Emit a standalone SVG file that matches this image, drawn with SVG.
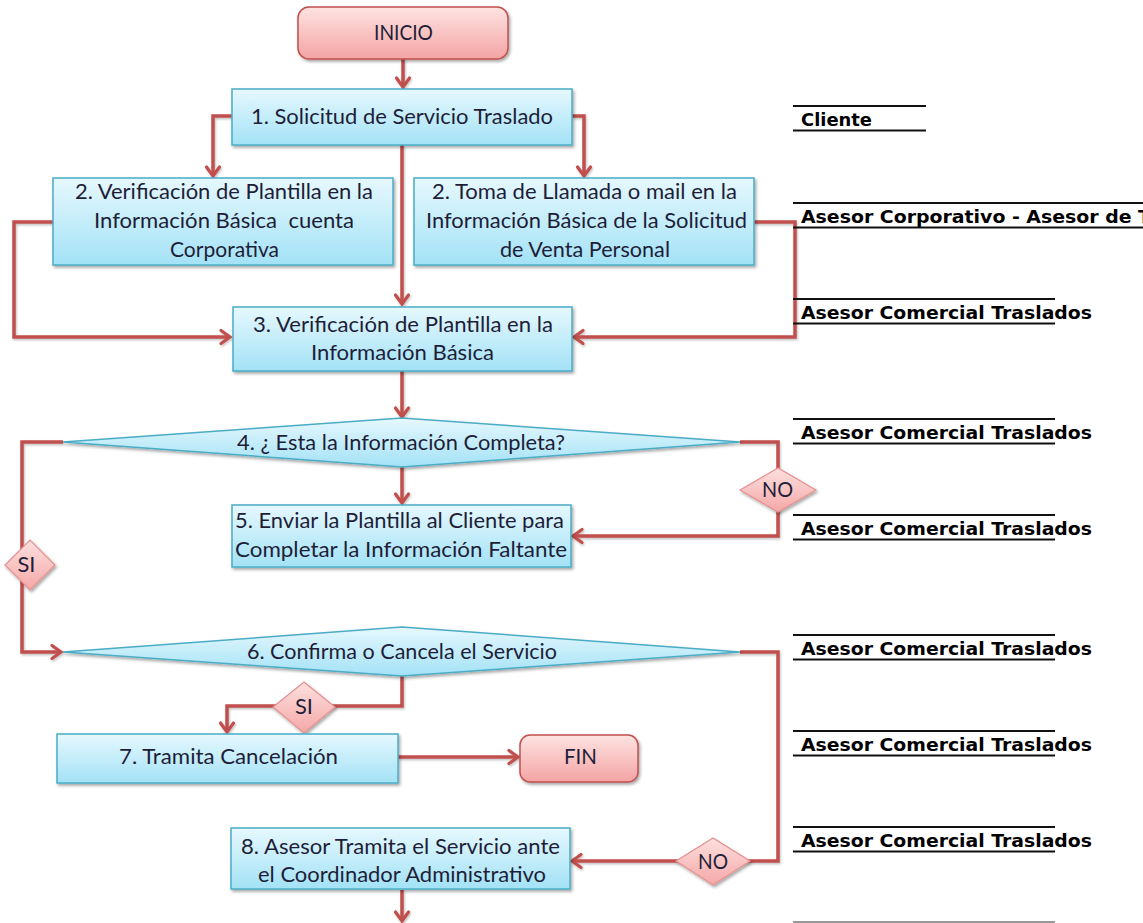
<svg xmlns="http://www.w3.org/2000/svg" width="1143" height="923" viewBox="0 0 1143 923">
<defs>
<linearGradient id="gBlue" x1="0" y1="0" x2="0" y2="1">
<stop offset="0" stop-color="#e6f8fe"/>
<stop offset="1" stop-color="#a3e2f6"/>
</linearGradient>
<linearGradient id="gPink" x1="0" y1="0" x2="0" y2="1">
<stop offset="0" stop-color="#fde3e2"/>
<stop offset="1" stop-color="#f3a4a3"/>
</linearGradient>
<linearGradient id="gPinkD" x1="0" y1="0" x2="0" y2="1">
<stop offset="0" stop-color="#fde0df"/>
<stop offset="1" stop-color="#f4a8a7"/>
</linearGradient>
<filter id="sh" x="-10%" y="-20%" width="120%" height="150%">
<feDropShadow dx="1.5" dy="2" stdDeviation="1.5" flood-color="#000" flood-opacity="0.35"/>
</filter>
<filter id="shl" x="-10%" y="-10%" width="120%" height="120%">
<feDropShadow dx="1" dy="1.5" stdDeviation="1" flood-color="#000" flood-opacity="0.25"/>
</filter>
<marker id="arr" viewBox="0 0 12 16" refX="10" refY="8" markerWidth="12" markerHeight="16" markerUnits="userSpaceOnUse" orient="auto" overflow="visible">
<path d="M1,1.5 L10,8 L1,14.5" fill="none" stroke="#c0504d" stroke-width="3.2" stroke-linejoin="miter" stroke-linecap="round"/>
</marker>
</defs>
<style>
.box{fill:url(#gBlue);stroke:#4bacc6;stroke-width:1.5;filter:url(#sh)}
.term{fill:url(#gPink);stroke:#c0504d;stroke-width:1.5;filter:url(#sh)}
.dec{fill:url(#gPinkD);stroke:#e5908e;stroke-width:1.2;filter:url(#sh)}
.t{font-family:Lato,"Liberation Sans",sans-serif;font-size:22px;fill:#1e1e38;text-anchor:middle}
.lbl{font-family:"DejaVu Sans","Liberation Sans",sans-serif;font-weight:bold;font-size:18px;fill:#000}
.rl{stroke:#111;stroke-width:2}
.c{fill:none;stroke:#c0504d;stroke-width:3.5;stroke-linejoin:miter}
</style>
<rect width="1143" height="923" fill="#fff"/>

<g id="connectors" filter="url(#shl)">
<path class="c" d="M403,59 V87" marker-end="url(#arr)"/>
<path class="c" d="M232,116 H213 V176" marker-end="url(#arr)"/>
<path class="c" d="M572,116 H584 V176" marker-end="url(#arr)"/>
<path class="c" d="M402,145 V304" marker-end="url(#arr)"/>
<path class="c" d="M53,222 H14 V337 H230" marker-end="url(#arr)"/>
<path class="c" d="M754,222 H795 V337 H574" marker-end="url(#arr)"/>
<path class="c" d="M402,371 V417" marker-end="url(#arr)"/>
<path class="c" d="M402,467 V503" marker-end="url(#arr)"/>
<path class="c" d="M740,442 H778 V536 H573" marker-end="url(#arr)"/>
<path class="c" d="M63,442 H22 V652 H61" marker-end="url(#arr)"/>
<path class="c" d="M402,676 V706 H227 V732" marker-end="url(#arr)"/>
<path class="c" d="M398,757 H518" marker-end="url(#arr)"/>
<path class="c" d="M740,652 H778 V861 H572" marker-end="url(#arr)"/>
<path class="c" d="M402,890 V921" marker-end="url(#arr)"/>
</g>

<g id="inicio">
<rect class="term" x="298" y="7" width="210" height="52" rx="11"/>
<text class="t" x="403.5" y="40" textLength="59" lengthAdjust="spacingAndGlyphs">INICIO</text>
</g>

<g id="n1">
<rect class="box" x="232" y="89" width="340" height="56"/>
<text class="t" x="402" y="124" textLength="302" lengthAdjust="spacingAndGlyphs">1. Solicitud de Servicio Traslado</text>
</g>

<g id="n2a">
<rect class="box" x="53" y="178" width="340" height="87"/>
<text class="t" x="224" y="199" textLength="298" lengthAdjust="spacingAndGlyphs">2. Verificación de Plantilla en la</text>
<text class="t" x="224" y="228" textLength="260" lengthAdjust="spacingAndGlyphs" xml:space="preserve">Información Básica  cuenta</text>
<text class="t" x="224.5" y="257" textLength="109" lengthAdjust="spacingAndGlyphs">Corporativa</text>
</g>

<g id="n2b">
<rect class="box" x="414" y="178" width="340" height="87"/>
<text class="t" x="584.5" y="199" textLength="305" lengthAdjust="spacingAndGlyphs">2. Toma de Llamada o mail en la</text>
<text class="t" x="586.5" y="228" textLength="321" lengthAdjust="spacingAndGlyphs">Información Básica de la Solicitud</text>
<text class="t" x="585" y="257" textLength="170" lengthAdjust="spacingAndGlyphs">de Venta Personal</text>
</g>

<g id="n3">
<rect class="box" x="233" y="307" width="339" height="64"/>
<text class="t" x="403" y="332" textLength="300" lengthAdjust="spacingAndGlyphs">3. Verificación de Plantilla en la</text>
<text class="t" x="402.5" y="360" textLength="183" lengthAdjust="spacingAndGlyphs">Información Básica</text>
</g>

<g id="n4">
<polygon class="box" points="63,442 402,418 740,442 402,467"/>
<text class="t" x="401" y="450" textLength="328" lengthAdjust="spacingAndGlyphs">4. ¿ Esta la Información Completa?</text>
</g>

<g id="no1">
<polygon class="dec" points="740,490 778,468 816,490 778,512"/>
<text class="t" x="777.5" y="497" textLength="31" lengthAdjust="spacingAndGlyphs">NO</text>
</g>

<g id="si1">
<polygon class="dec" points="5,565 30,540 55,565 30,590"/>
<text class="t" x="26.5" y="572" textLength="18" lengthAdjust="spacingAndGlyphs">SI</text>
</g>

<g id="n5">
<rect class="box" x="232" y="505" width="339" height="62"/>
<text class="t" x="399.5" y="528" textLength="329" lengthAdjust="spacingAndGlyphs">5. Enviar la Plantilla al Cliente para</text>
<text class="t" x="401" y="557" textLength="332" lengthAdjust="spacingAndGlyphs">Completar la Información Faltante</text>
</g>

<g id="n6">
<polygon class="box" points="63,652 402,627 740,652 402,676"/>
<text class="t" x="402" y="659" textLength="310" lengthAdjust="spacingAndGlyphs">6. Confirma o Cancela el Servicio</text>
</g>

<g id="si2">
<polygon class="dec" points="273,707 304,682 335,707 304,733"/>
<text class="t" x="304" y="714" textLength="18" lengthAdjust="spacingAndGlyphs">SI</text>
</g>

<g id="n7">
<rect class="box" x="57" y="734" width="341" height="49"/>
<text class="t" x="228.5" y="764" textLength="219" lengthAdjust="spacingAndGlyphs">7. Tramita Cancelación</text>
</g>

<g id="fin">
<rect class="term" x="520" y="735" width="118" height="47" rx="10"/>
<text class="t" x="580.5" y="764" textLength="33" lengthAdjust="spacingAndGlyphs">FIN</text>
</g>

<g id="no2">
<polygon class="dec" points="676,861 713,838 750,861 713,885"/>
<text class="t" x="713" y="869" textLength="30" lengthAdjust="spacingAndGlyphs">NO</text>
</g>

<g id="n8">
<rect class="box" x="231" y="828" width="339" height="61"/>
<text class="t" x="400.5" y="854" textLength="319" lengthAdjust="spacingAndGlyphs">8. Asesor Tramita el Servicio ante</text>
<text class="t" x="402" y="882" textLength="288" lengthAdjust="spacingAndGlyphs">el Coordinador Administrativo</text>
</g>

<g id="roles">
<line class="rl" x1="793" y1="106" x2="926" y2="106"/>
<text class="lbl" x="801" y="126" textLength="71" lengthAdjust="spacingAndGlyphs">Cliente</text>
<line class="rl" x1="793" y1="130.5" x2="926" y2="130.5"/>

<line class="rl" x1="793" y1="203" x2="1143" y2="203"/>
<text class="lbl" x="801" y="223" textLength="350" lengthAdjust="spacingAndGlyphs">Asesor Corporativo - Asesor de T</text>
<line class="rl" x1="793" y1="227.5" x2="1143" y2="227.5"/>

<line class="rl" x1="793" y1="299" x2="1055" y2="299"/>
<text class="lbl" x="801" y="319" textLength="291" lengthAdjust="spacingAndGlyphs">Asesor Comercial Traslados</text>
<line class="rl" x1="793" y1="323.5" x2="1055" y2="323.5"/>

<line class="rl" x1="793" y1="419" x2="1055" y2="419"/>
<text class="lbl" x="801" y="439" textLength="291" lengthAdjust="spacingAndGlyphs">Asesor Comercial Traslados</text>
<line class="rl" x1="793" y1="443.5" x2="1055" y2="443.5"/>

<line class="rl" x1="793" y1="515" x2="1055" y2="515"/>
<text class="lbl" x="801" y="535" textLength="291" lengthAdjust="spacingAndGlyphs">Asesor Comercial Traslados</text>
<line class="rl" x1="793" y1="539.5" x2="1055" y2="539.5"/>

<line class="rl" x1="793" y1="635" x2="1055" y2="635"/>
<text class="lbl" x="801" y="655" textLength="291" lengthAdjust="spacingAndGlyphs">Asesor Comercial Traslados</text>
<line class="rl" x1="793" y1="659.5" x2="1055" y2="659.5"/>

<line class="rl" x1="793" y1="731" x2="1055" y2="731"/>
<text class="lbl" x="801" y="751" textLength="291" lengthAdjust="spacingAndGlyphs">Asesor Comercial Traslados</text>
<line class="rl" x1="793" y1="755.5" x2="1055" y2="755.5"/>

<line class="rl" x1="793" y1="827" x2="1055" y2="827"/>
<text class="lbl" x="801" y="847" textLength="291" lengthAdjust="spacingAndGlyphs">Asesor Comercial Traslados</text>
<line class="rl" x1="793" y1="851.5" x2="1055" y2="851.5"/>

<line x1="793" y1="922" x2="1055" y2="922" stroke="#999" stroke-width="2"/>
</g>
</svg>
